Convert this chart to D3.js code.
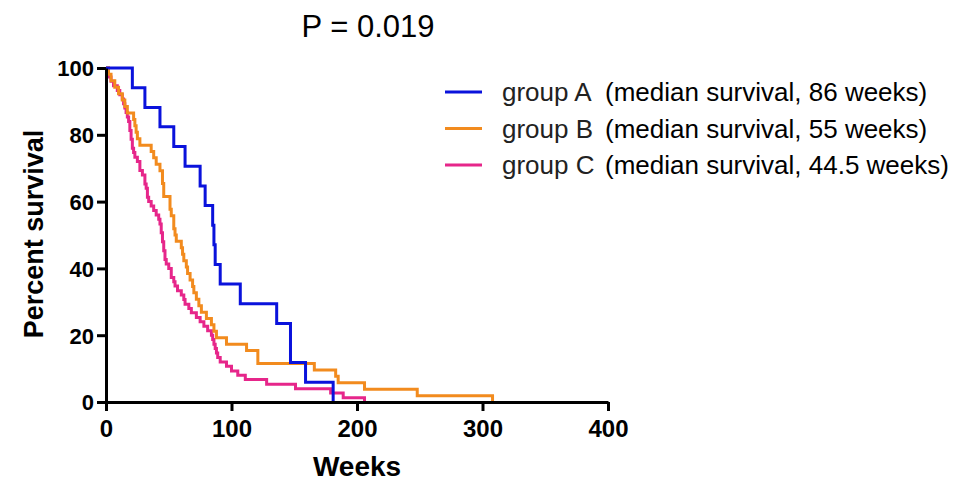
<!DOCTYPE html>
<html><head><meta charset="utf-8">
<script src="https://cdn.jsdelivr.net/npm/d3@7"></script>
<style>body{margin:0;background:#fff}svg{display:block}</style>
</head><body>
<svg id="chart" width="958" height="481"></svg>
<script>
const titleText = "P = 0.019";
const xTicks = [0, 100, 200, 300, 400];
const yTicks = [0, 20, 40, 60, 80, 100];
const groupNames = ["group A", "group B", "group C"];
const groupNotes = ["(median survival, 86 weeks)", "(median survival, 55 weeks)", "(median survival, 44.5 weeks)"];
const colors = ["#0a12dc", "#f28b1e", "#e6268a"];

const weeksA = [0,21,31,43,54,63,75,79,85,86,87,91,107,136,147,159,181];
const survA  = [100,94.1,88.2,82.4,76.5,70.6,64.7,58.8,52.9,47.1,41.2,35.3,29.4,23.5,11.8,5.9,0];

const weeksB = [0,2,4,7,10,13,15,17,22,23,24,25,27,36,38,40,43,45,46,51,52,54,55,56,60,61,62,64,65,67,69,70,72,74,76,80,84,86,88,96,112,121,166,183,185,206,248,308];
const survB  = [100,98.1,96.2,94.2,92.3,90.4,88.5,86.5,84.6,82.7,80.8,78.8,76.9,75.0,73.1,71.2,69.2,65.4,61.5,57.7,55.8,51.9,50.0,48.1,46.2,44.2,42.3,40.4,38.5,36.5,34.6,32.7,30.8,28.8,26.9,25.0,23.1,21.2,19.2,17.3,15.4,11.5,9.6,7.7,5.8,3.8,1.9,0];

const weeksC = [0,2,4,6,9,11,13,14,15,16,17,18,19,20,21,22,23,25,27,29,31,32,33,34,36,38,40,42,43,44,45,46,47,48,50,52,54,55,57,60,62,63,66,68,72,75,78,81,84,85,86,87,88,89,91,96,100,105,111,128,151,179,189,206];
const survC  = [100,97.3,96.0,94.7,93.3,92.0,90.7,89.3,88.0,86.7,85.3,84.0,81.3,78.7,76.0,74.7,73.3,72.0,69.3,68.0,65.3,64.0,61.3,60.0,58.7,57.3,56.0,54.7,53.3,50.7,48.0,45.3,42.7,41.3,40.0,37.3,36.0,34.7,33.3,32.0,30.7,29.3,28.0,26.7,25.3,24.0,22.7,21.3,20.0,18.7,17.3,16.0,14.7,13.3,12.0,10.7,9.3,8.0,6.7,5.3,4.0,2.7,1.3,0];

const series = [
  {w: weeksA, s: survA},
  {w: weeksB, s: survB},
  {w: weeksC, s: survC}
];

const FONT = "'Liberation Sans', Arial, sans-serif";
const svg = d3.select("#chart");
const x = d3.scaleLinear().domain([0, 400]).range([106, 608]);
const y = d3.scaleLinear().domain([0, 100]).range([402, 68]);

const line = d3.line().x(d => x(d[0])).y(d => y(d[1])).curve(d3.curveStepAfter);
[2, 1, 0].forEach(i => {
  const pts = series[i].w.map((w, j) => [w, series[i].s[j]]);
  svg.append("path").attr("d", line(pts)).attr("fill", "none")
    .attr("stroke", colors[i]).attr("stroke-width", 3).attr("stroke-linejoin", "miter");
});

// axes
const xAxis = svg.append("g").attr("transform", "translate(0,402)")
  .call(d3.axisBottom(x).tickValues(xTicks).tickSize(9).tickPadding(9).tickSizeOuter(0));
const yAxis = svg.append("g").attr("transform", "translate(106,0)")
  .call(d3.axisLeft(y).tickValues(yTicks).tickSize(9).tickPadding(3).tickSizeOuter(0));
[xAxis, yAxis].forEach(a => {
  a.select(".domain").attr("stroke", "#000").attr("stroke-width", 3);
  a.selectAll(".tick line").attr("stroke", "#000").attr("stroke-width", 3);
  a.selectAll(".tick text").attr("fill", "#000")
    .style("font-family", FONT).style("font-weight", "bold");
});
xAxis.selectAll(".tick text").style("font-size", "24px");
yAxis.selectAll(".tick text").style("font-size", "22px").attr("dy", "0.36em");

// axis titles
svg.append("text").attr("x", 357).attr("y", 476).attr("text-anchor", "middle")
  .style("font-family", FONT).style("font-weight", "bold")
  .style("font-size", "28px").text("Weeks");
svg.append("text").attr("transform", "translate(43,234) rotate(-90)").attr("text-anchor", "middle")
  .style("font-family", FONT).style("font-weight", "bold")
  .style("font-size", "27px").text("Percent survival");

// title
svg.append("text").attr("x", 368).attr("y", 37).attr("text-anchor", "middle")
  .style("font-family", FONT).style("font-size", "31px").text(titleText);

// legend
const lg = svg.append("g");
groupNames.forEach((g, i) => {
  const cy = 92 + i * 36.5;
  lg.append("line").attr("x1", 445).attr("x2", 482).attr("y1", cy).attr("y2", cy)
    .attr("stroke", colors[i]).attr("stroke-width", 3);
  lg.append("text").attr("x", 502).attr("y", cy + 9)
    .style("font-family", FONT).style("font-size", "26px")
    .attr("fill", "#222").text(g);
  lg.append("text").attr("x", 605).attr("y", cy + 9)
    .style("font-family", FONT).style("font-size", "26px")
    .attr("fill", "#000").text(groupNotes[i]);
});
</script>
</body></html>
